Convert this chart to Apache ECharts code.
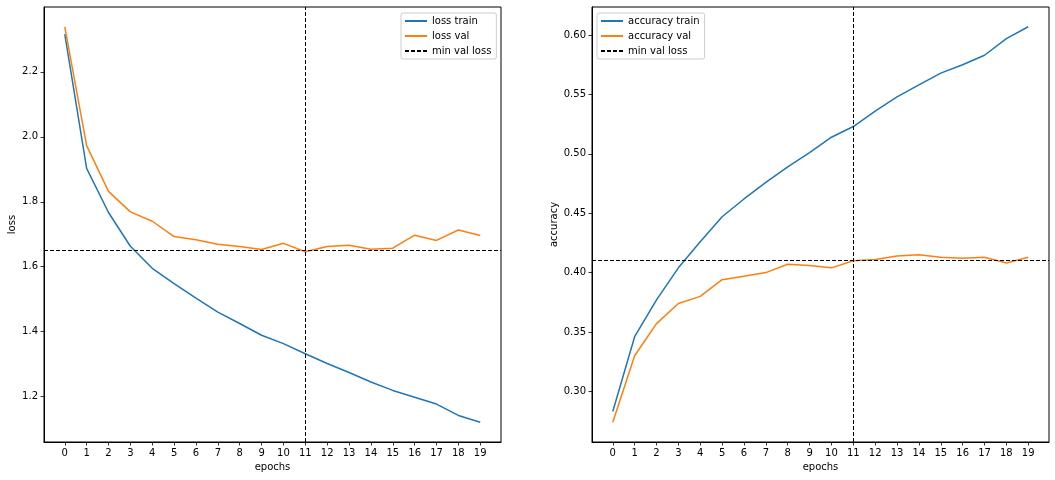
<!DOCTYPE html>
<html>
<head>
<meta charset="utf-8">
<script src="https://cdn.jsdelivr.net/npm/echarts@6/dist/echarts.min.js"></script>
<style>
html,body{margin:0;padding:0;background:#fff;}
#chart{width:1055px;height:480px;}
</style>
</head>
<body>
<div id="chart"></div>
<script>
const epochs = [0,1,2,3,4,5,6,7,8,9,10,11,12,13,14,15,16,17,18,19];
const lossTrain = [2.316,1.903,1.767,1.663,1.595,1.548,1.503,1.460,1.425,1.389,1.363,1.332,1.302,1.274,1.245,1.219,1.198,1.177,1.142,1.121];
const lossVal = [2.339,1.973,1.832,1.769,1.740,1.693,1.683,1.669,1.662,1.653,1.672,1.646,1.662,1.666,1.654,1.657,1.697,1.681,1.713,1.696];
const accTrain = [0.283,0.346,0.377,0.404,0.426,0.447,0.462,0.476,0.489,0.501,0.514,0.523,0.536,0.548,0.558,0.568,0.575,0.583,0.597,0.607];
const accVal = [0.274,0.330,0.357,0.374,0.380,0.394,0.397,0.400,0.407,0.406,0.404,0.410,0.411,0.414,0.415,0.413,0.412,0.413,0.408,0.413];
const lossTicks = [1.2,1.4,1.6,1.8,2.0,2.2];
const accTicks = [0.30,0.35,0.40,0.45,0.50,0.55,0.60];

const minIdx = lossVal.indexOf(Math.min(...lossVal));
const minEpoch = epochs[minIdx];
const minLoss = lossVal[minIdx];
const accAtMin = accVal[minIdx];

function pad(arrs){
  const all = [].concat(...arrs);
  const lo = Math.min(...all), hi = Math.max(...all);
  const p = (hi-lo)*0.05;
  return [lo-p, hi+p];
}
const xr = pad([epochs]);
const lr = pad([lossTrain, lossVal]);
const ar = pad([accTrain, accVal]);

const BLUE = '#1f77b4', ORANGE = '#ff7f0e';
const FONT = 'DejaVu Sans';
const pts = arr => epochs.map((e,i)=>[e, arr[i]]);

function xAxis(gi){
  return {
    type:'value', gridIndex:gi, min:xr[0], max:xr[1],
    name:'epochs', nameLocation:'middle', nameGap:20,
    nameTextStyle:{fontFamily:FONT,fontSize:10,color:'#000'},
    axisLine:{show:true, onZero:false, lineStyle:{color:'#000',width:1}},
    axisTick:{show:true, customValues:epochs, length:3.5, lineStyle:{color:'#000',width:0.8}},
    axisLabel:{customValues:epochs, fontFamily:FONT, fontSize:10, color:'#000', margin:6},
    splitLine:{show:false}
  };
}
function yAxis(gi, r, ticks, name, dec, gap){
  return {
    type:'value', gridIndex:gi, min:r[0], max:r[1],
    name:name, nameLocation:'middle', nameGap:gap,
    nameTextStyle:{fontFamily:FONT,fontSize:10,color:'#000'},
    axisLine:{show:true, onZero:false, lineStyle:{color:'#000',width:1}},
    axisTick:{show:true, customValues:ticks, length:3.5, lineStyle:{color:'#000',width:0.8}},
    axisLabel:{customValues:ticks, fontFamily:FONT, fontSize:10, color:'#000', margin:6,
      formatter:v=>Number(v).toFixed(dec)},
    splitLine:{show:false}
  };
}
function lineSeries(name, gi, arr, color){
  return {type:'line', name:name, xAxisIndex:gi, yAxisIndex:gi, data:pts(arr),
    showSymbol:false, symbol:'none', lineStyle:{color:color,width:1.5}, itemStyle:{color:color}, z:3};
}
function minSeries(gi, yVal){
  return {type:'line', name:'min val loss', xAxisIndex:gi, yAxisIndex:gi, data:[],
    symbol:'none', lineStyle:{color:'#000',width:1,type:[4,2]}, itemStyle:{color:'#000'},
    markLine:{silent:true, symbol:'none', label:{show:false},
      lineStyle:{color:'#000',width:1,type:[4,2]},
      data:[{xAxis:minEpoch},{yAxis:yVal}]}, z:2};
}
function legend(left, top, names){
  return {
    data:names, orient:'vertical', left:left, top:top,
    itemWidth:22, itemHeight:10, itemGap:5, padding:[3,5,3,3],
    itemStyle:{color:'transparent', borderWidth:0, opacity:0},
    borderColor:'#cccccc', borderWidth:1, borderRadius:2, backgroundColor:'rgba(255,255,255,0.8)',
    textStyle:{fontFamily:FONT,fontSize:10,color:'#000'}, selectedMode:false
  };
}

const option = {
  animation:false,
  backgroundColor:'#fff',
  grid:[
    {left:44, top:7, width:457, height:435, show:true, borderColor:'#000', borderWidth:1, backgroundColor:'transparent'},
    {left:592, top:7, width:457, height:435, show:true, borderColor:'#000', borderWidth:1, backgroundColor:'transparent'}
  ],
  xAxis:[xAxis(0), xAxis(1)],
  yAxis:[yAxis(0, lr, lossTicks, 'loss', 1, 27), yAxis(1, ar, accTicks, 'accuracy', 2, 33)],
  legend:[
    legend(401, 13, ['loss train','loss val','min val loss']),
    legend(597, 13, ['accuracy train','accuracy val','min val loss'])
  ],
  series:[
    lineSeries('loss train',0,lossTrain,BLUE),
    lineSeries('loss val',0,lossVal,ORANGE),
    minSeries(0,minLoss),
    lineSeries('accuracy train',1,accTrain,BLUE),
    lineSeries('accuracy val',1,accVal,ORANGE),
    minSeries(1,accAtMin)
  ]
};
const chart = echarts.init(document.getElementById('chart'), null, {renderer:'canvas'});
chart.setOption(option);
</script>
</body>
</html>
